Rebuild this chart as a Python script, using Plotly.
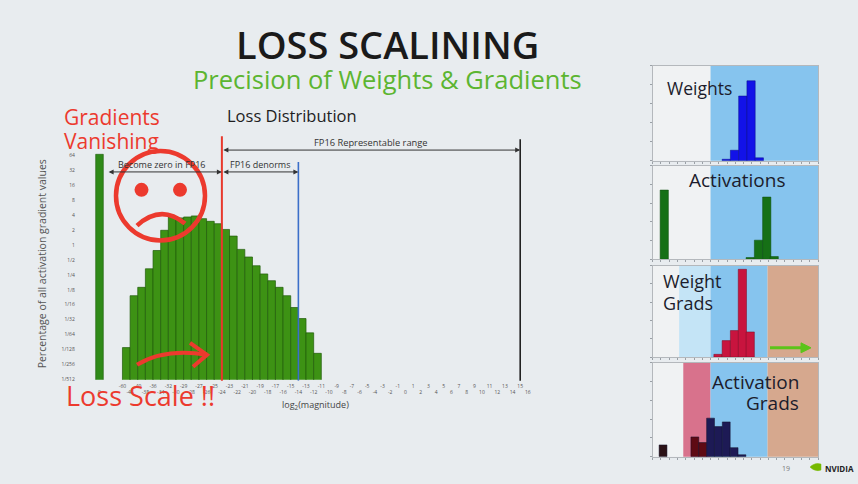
import math
import plotly.graph_objects as go

W, H = 858, 484
def px(x):
    return x / W
def py(y):
    return 1 - y / H

FONT = "Open Sans"
BG = "#e8ecef"

# ---------------- main histogram data ----------------
x_tick_labels = ["0", "", "", "-60", "-45", "-40", "-38", "-36", "-34", "-32", "-30",
                 "-29", "-28", "-27", "-26", "-25", "-24"] + [str(v) for v in range(-23, 17)]
zero_bin_index = 0
zero_bin_pct = [66]
hist_first_index = 3
hist_pct = [0.0086, 0.095, 0.14, 0.33, 0.77, 1.96, 3.63, 3.48, 3.63, 3.81, 3.36, 2.97, 2.66,
            2.04, 1.5, 0.81, 0.57, 0.38, 0.26, 0.19, 0.14, 0.095, 0.055, 0.033, 0.017, 0.0066]
y_tick_exps = list(range(-9, 7))
y_tick_labels = ["1/512", "1/256", "1/128", "1/64", "1/32", "1/16", "1/8", "1/4", "1/2",
                 "1", "2", "4", "8", "16", "32", "64"]
fp16_min_idx = x_tick_labels.index("-24")
denorm_end_idx = x_tick_labels.index("-14")
fp16_max_idx = x_tick_labels.index("15")

# ---------------- small panels data ----------------
w_bins = [8.9, 9.9, 10.9, 11.9, 12.9]
w_vals = [0.015, 0.11, 0.68, 0.84, 0.03]
a_bins = [1.4, 11.8, 12.8, 13.8, 14.7]
a_vals = [0.74, 0.02, 0.205, 0.665, 0.03]
wg_bins = [7.9, 8.9, 9.9, 10.85, 11.8]
wg_vals = [0.03, 0.18, 0.29, 0.96, 0.275]
ag_bins = [1.25, 5.1, 6.05, 7.0, 7.95, 8.9, 9.85, 10.8]
ag_vals = [0.125, 0.21, 0.15, 0.41, 0.32, 0.37, 0.096, 0.02]
ag_colors = ["#2b1216", "#5e0a14", "#5e0a14", "#1d1a55", "#1d1a55", "#1d1a55", "#1d1a55", "#1d1a55"]

# band edges (bin units) for each panel: (start, end, colour)
bands = {
    2: [(7.0, 20.0, "#86c4ee")],
    3: [(7.0, 20.0, "#86c4ee")],
    4: [(3.2, 7.0, "#c4e4f6"), (7.0, 13.9, "#86c4ee"), (13.9, 20.0, "#d6a88e")],
    5: [(3.7, 7.0, "#d8728c"), (7.0, 13.9, "#86c4ee"), (13.9, 20.0, "#d6a88e")],
}

fig = go.Figure()

fig.add_trace(go.Bar(x=[zero_bin_index], y=zero_bin_pct, width=1,
                     marker=dict(color="#2f8a18", line=dict(color="#1f5e0c", width=0.6)),
                     xaxis="x", yaxis="y", showlegend=False))
fig.add_trace(go.Bar(x=[hist_first_index + 0.5 + i for i in range(len(hist_pct))], y=hist_pct, width=1,
                     marker=dict(color="#3d9214", line=dict(color="#215c0a", width=0.7)),
                     xaxis="x", yaxis="y", showlegend=False))

fig.add_trace(go.Bar(x=w_bins, y=w_vals, width=1, marker=dict(color="#1212e8", line=dict(color="#0a0a8a", width=0.5)),
                     xaxis="x2", yaxis="y2", showlegend=False))
fig.add_trace(go.Bar(x=a_bins, y=a_vals, width=1, marker=dict(color="#167016", line=dict(color="#0c4a0c", width=0.5)),
                     xaxis="x3", yaxis="y3", showlegend=False))
fig.add_trace(go.Bar(x=wg_bins, y=wg_vals, width=1, marker=dict(color="#c8143e", line=dict(color="#7a0a22", width=0.5)),
                     xaxis="x4", yaxis="y4", showlegend=False))
fig.add_trace(go.Bar(x=ag_bins, y=ag_vals, width=0.95, marker=dict(color=ag_colors, line=dict(color="#10102a", width=0.5)),
                     xaxis="x5", yaxis="y5", showlegend=False))

# main axes
main_x_dom = [px(91.85), px(535.5)]
main_y_dom = [py(382), py(138)]
L2 = math.log10(2)

layout = dict(
    width=W, height=H,
    margin=dict(l=0, r=0, t=0, b=0),
    paper_bgcolor=BG,
    plot_bgcolor="rgba(0,0,0,0)",
    barmode="overlay",
    font=dict(family=FONT, color="#333"),
    xaxis=dict(domain=main_x_dom, range=[-1, 57], tickvals=list(range(len(x_tick_labels))),
               ticktext=[(t if i % 2 == 1 else "<br>" + t) for i, t in enumerate(x_tick_labels)],
               tickangle=0, tickfont=dict(size=5, color="#555"), showgrid=False, zeroline=False,
               showline=False, ticks="", ticklabelstandoff=2, anchor="y"),
    yaxis=dict(domain=main_y_dom, type="log", range=[-9 * L2, 7.19 * L2],
               tickvals=[2 ** e for e in y_tick_exps], ticktext=y_tick_labels,
               tickfont=dict(size=5, color="#555"), showgrid=False, zeroline=False, showline=False,
               ticks="", ticklabelstandoff=16, anchor="x"),
)

panel_y = {2: (66, 161.7), 3: (166.7, 261), 4: (267.3, 359.3), 5: (365, 459.5)}
for i, (yt, yb) in panel_y.items():
    layout[f"xaxis{i}"] = dict(domain=[px(652.7), px(818)], range=[0, 20], anchor=f"y{i}",
                               showline=True, mirror=True, linecolor="#b4b8bc", linewidth=1,
                               ticks="outside", ticklen=2, tickcolor="#9aa0a6", dtick=1,
                               showticklabels=False, showgrid=False, zeroline=False)
    layout[f"yaxis{i}"] = dict(domain=[py(yb), py(yt)], range=[0, 1], anchor=f"x{i}",
                               showline=True, mirror=True, linecolor="#b4b8bc", linewidth=1,
                               ticks="outside", ticklen=2, tickcolor="#9aa0a6", dtick=0.2,
                               showticklabels=False, showgrid=False, zeroline=False)

shapes = []
for i in panel_y:
    shapes.append(dict(type="rect", xref=f"x{i} domain", yref=f"y{i} domain", x0=0, x1=1, y0=0, y1=1,
                       fillcolor="#f0f2f3", line=dict(width=0), layer="below"))
    for (b0, b1, col) in bands[i]:
        shapes.append(dict(type="rect", xref=f"x{i}", yref=f"y{i} domain", x0=b0, x1=b1, y0=0, y1=1,
                           fillcolor=col, line=dict(width=0), layer="below"))

# vertical reference lines
shapes.append(dict(type="line", xref="x", yref="paper", x0=fp16_min_idx, x1=fp16_min_idx,
                   y0=py(383), y1=py(137), line=dict(color="#e8392c", width=2)))
shapes.append(dict(type="line", xref="x", yref="paper", x0=denorm_end_idx, x1=denorm_end_idx,
                   y0=py(383), y1=py(163), line=dict(color="#3b6fc9", width=1.6)))
shapes.append(dict(type="line", xref="x", yref="paper", x0=fp16_max_idx, x1=fp16_max_idx,
                   y0=py(383), y1=py(140), line=dict(color="#222", width=1.6)))

RED = "#ec3a2e"
# sad face
shapes.append(dict(type="circle", xref="paper", yref="paper", x0=px(116), x1=px(205), y0=py(242), y1=py(152),
                   line=dict(color=RED, width=4.5)))
for ex in (141.5, 180):
    shapes.append(dict(type="circle", xref="paper", yref="paper", x0=px(ex - 7), x1=px(ex + 7),
                       y0=py(198), y1=py(184), fillcolor=RED, line=dict(color=RED, width=0)))
shapes.append(dict(type="path", xref="paper", yref="paper",
                   path=f"M {px(137)} {py(227)} Q {px(161)} {py(205)} {px(185)} {py(225)}",
                   line=dict(color=RED, width=4.5)))
# hand drawn arrow
shapes.append(dict(type="path", xref="paper", yref="paper",
                   path=f"M {px(137)} {py(367)} Q {px(165)} {py(350)} {px(207)} {py(357)}",
                   line=dict(color=RED, width=4)))
shapes.append(dict(type="path", xref="paper", yref="paper",
                   path=f"M {px(190)} {py(345)} L {px(207)} {py(357)} L {px(193)} {py(369)}",
                   line=dict(color=RED, width=4)))
# green arrow in weight grads panel
shapes.append(dict(type="line", xref="paper", yref="paper", x0=px(770), x1=px(803), y0=py(350), y1=py(350),
                   line=dict(color="#5cc41a", width=3)))
shapes.append(dict(type="path", xref="paper", yref="paper",
                   path=f"M {px(801)} {py(345)} L {px(811)} {py(350)} L {px(801)} {py(355)} Z",
                   fillcolor="#5cc41a", line=dict(color="#5cc41a", width=1)))
# nvidia logo eye
shapes.append(dict(type="path", xref="paper", yref="paper",
                   path=f"M {px(810)} {py(470)} Q {px(815)} {py(465)} {px(821)} {py(467)} L {px(821)} {py(473)} Q {px(815)} {py(475)} {px(810)} {py(470)} Z",
                   fillcolor="#76b900", line=dict(color="#76b900", width=0.5)))
layout["shapes"] = shapes

def yd(ypix):
    return (382 - ypix) / (382 - 138)

ann = []
# range arrows
for (a, b, ypx) in [(fp16_min_idx, fp16_max_idx, 151), (fp16_min_idx, denorm_end_idx, 173), (1, fp16_min_idx, 173)]:
    ann.append(dict(x=b, y=yd(ypx), xref="x", yref="y domain", ax=a, ay=yd(ypx), axref="x", ayref="y domain",
                    text="", showarrow=True, arrowhead=2, arrowside="end+start", arrowsize=1,
                    arrowwidth=1, arrowcolor="#333"))
ann.append(dict(x=35.5, y=yd(143), xref="x", yref="y domain", text="FP16 Representable range",
                showarrow=False, xanchor="center", yanchor="middle", font=dict(size=9.3, color="#333")))

def txt(x, y, s, size, color, xanchor="center", weight=None):
    f = dict(size=size, color=color, family=FONT)
    if weight:
        f["weight"] = weight
    ann.append(dict(x=px(x), y=py(y), xref="paper", yref="paper", text=s, showarrow=False,
                    xanchor=xanchor, yanchor="middle", font=f))

txt(260, 166, "FP16 denorms", 9, "#333")
txt(162, 166, "Become zero in FP16", 9, "#333")
txt(387, 44, "LOSS SCALINING", 38, "#1a1a1a", weight=600)
txt(387, 79, "Precision of Weights &amp; Gradients", 25.5, "#5cb531")
txt(292, 116, "Loss Distribution", 16.5, "#1e1e1e")
txt(62, 118, "Gradients", 21, RED, xanchor="left")
txt(62, 142, "Vanishing", 21, RED, xanchor="left")
txt(64, 398, "Loss Scale !!", 27, RED, xanchor="left")
txt(315, 408, "log<sub>2</sub>(magnitude)", 9, "#444")
ann.append(dict(x=px(42), y=py(266), xref="paper", yref="paper", text="Percentage of all activation gradient values",
                showarrow=False, textangle=-90, xanchor="center", yanchor="middle",
                font=dict(size=10.5, color="#555", family=FONT)))

txt(665, 89, "Weights", 17.5, "#1c1c2c", xanchor="left")
txt(737, 181, "Activations", 19, "#1c1c2c")
txt(661, 283, "Weight", 18, "#1c1c2c", xanchor="left")
txt(661, 305, "Grads", 18, "#1c1c2c", xanchor="left")
txt(801, 384, "Activation", 19, "#1c1c2c", xanchor="right")
txt(801, 406, "Grads", 19, "#1c1c2c", xanchor="right")
txt(786, 471, "19", 7, "#777")
txt(823, 471, "NVIDIA", 8, "#222", xanchor="left", weight=700)

layout["annotations"] = ann
fig.update_layout(**layout)
fig.write_html(
    "out.html",
    config={"displayModeBar": False},
    post_script=f"document.body.style.margin='0';document.body.style.background='{BG}';document.body.style.overflow='hidden';",
)
